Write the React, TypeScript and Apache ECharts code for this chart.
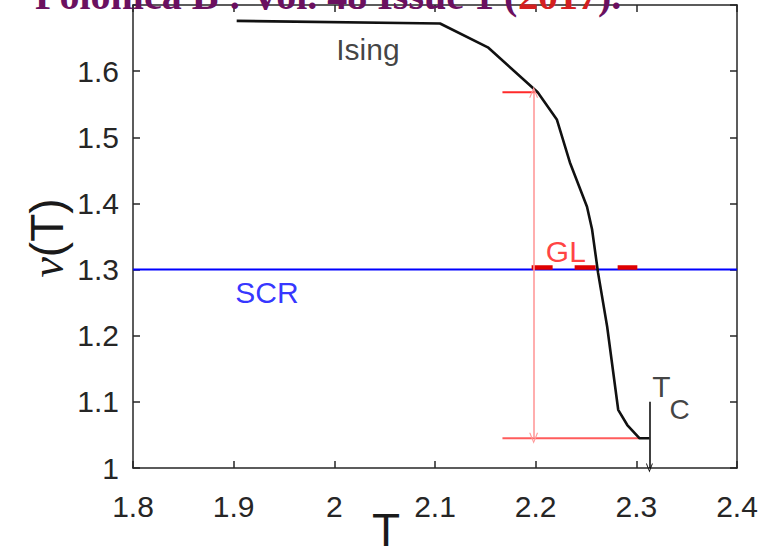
import React, { useEffect, useRef } from 'react';
import * as echarts from 'echarts';

// Ising curve nu(T)
const isingT = [1.903, 2.105, 2.1525, 2.202, 2.221, 2.234, 2.251, 2.256, 2.262, 2.271, 2.282, 2.291, 2.303, 2.313];
const isingNu = [1.676, 1.672, 1.636, 1.568, 1.527, 1.462, 1.395, 1.361, 1.295, 1.214, 1.088, 1.065, 1.045, 1.045];

// SCR level
const scrT = [1.8, 2.4];
const scrNu = [1.3, 1.3];

// GL dashed segment
const glT = [2.196, 2.301];
const glNu = [1.303, 1.303];

// red guide lines
const topGuideT = [2.167, 2.202];
const topGuideNu = 1.568;
const bottomGuideT = [2.167, 2.303];
const bottomGuideNu = 1.045;
const arrowT = 2.198;

// critical temperature marker
const Tc = 2.313;
const TcTop = 1.1;

// axis ranges
const xMin = 1.8, xMax = 2.4, xStep = 0.1;
const yMin = 1.0, yMax = 1.7, yStep = 0.1;

// in-plot labels
const labels = [
  { text: 'Ising', T: 2.0334, nu: 1.633, color: '#111111', size: 30 },
  { text: 'SCR', T: 1.933, nu: 1.265, color: '#0000ff', size: 30 },
  { text: 'GL', T: 2.23, nu: 1.327, color: '#ff1010', size: 30 },
  { text: 'T', T: 2.325, nu: 1.1227, color: '#111111', size: 30 },
  { text: 'C', T: 2.343, nu: 1.088, color: '#111111', size: 28 },
];

const chevron = 'path://M0,10 L5,0 L10,10 L8.6,10 L5,2.6 L1.4,10 Z';

export default function App() {
  const ref = useRef<HTMLDivElement>(null);
  useEffect(() => {
    if (!ref.current) return;
    const chart = echarts.init(ref.current, undefined, { renderer: 'svg' });
    const fmt = (v: number) => String(parseFloat(v.toFixed(2)));
    const axisColor = '#262626';
    const font = 'Liberation Sans';
    const baseX = {
      type: 'value' as const,
      min: xMin,
      max: xMax,
      interval: xStep,
      splitLine: { show: false },
      axisLine: { show: true, onZero: false, lineStyle: { color: axisColor, width: 1.5 } },
      axisTick: { show: true, inside: true, length: 7, lineStyle: { color: axisColor, width: 1.5 } },
    };
    const baseY = {
      type: 'value' as const,
      min: yMin,
      max: yMax,
      interval: yStep,
      splitLine: { show: false },
      axisLine: { show: true, onZero: false, lineStyle: { color: axisColor, width: 1.5 } },
      axisTick: { show: true, inside: true, length: 7, lineStyle: { color: axisColor, width: 1.5 } },
    };
    chart.setOption({
      animation: false,
      backgroundColor: '#ffffff',
      grid: { left: 133, right: 41, top: 5, bottom: 82 },
      xAxis: [
        {
          ...baseX,
          position: 'bottom',
          axisLabel: { show: true, margin: 23, color: axisColor, fontSize: 30, fontFamily: font, formatter: fmt },
        },
        { ...baseX, position: 'top', axisLabel: { show: false } },
      ],
      yAxis: [
        {
          ...baseY,
          position: 'left',
          axisLabel: {
            show: true, margin: 14, color: axisColor, fontSize: 30, fontFamily: font,
            formatter: (v: number) => (v > yMax - 0.05 ? '' : fmt(v)),
          },
        },
        { ...baseY, position: 'right', axisLabel: { show: false } },
      ],
      series: [
        {
          type: 'line', name: 'SCR', symbol: 'none',
          data: scrT.map((t, i) => [t, scrNu[i]]),
          lineStyle: { color: '#0000ff', width: 2 },
        },
        {
          type: 'line', name: 'GL', symbol: 'none',
          data: glT.map((t, i) => [t, glNu[i]]),
          lineStyle: { color: '#e00000', width: 4.5, type: [21, 22], cap: 'butt' },
        },
        {
          type: 'line', name: 'guideTop', symbol: 'none',
          data: topGuideT.map((t) => [t, topGuideNu]),
          lineStyle: { color: '#ff2a2a', width: 2 },
          markLine: {
            silent: true,
            symbol: [chevron, chevron],
            symbolSize: [9, 11],
            label: { show: false },
            lineStyle: { color: '#ff9a9a', width: 1.6, type: 'solid' },
            data: [[{ coord: [arrowT, topGuideNu] }, { coord: [arrowT, bottomGuideNu] }]],
          },
        },
        {
          type: 'line', name: 'guideBottom', symbol: 'none',
          data: bottomGuideT.map((t) => [t, bottomGuideNu]),
          lineStyle: { color: '#ff5c5c', width: 2 },
        },
        {
          type: 'line', name: 'Tc', symbol: 'none',
          data: [[Tc, TcTop], [Tc, yMin]],
          lineStyle: { color: '#111111', width: 0 },
          markLine: {
            silent: true,
            symbol: ['none', chevron],
            symbolSize: [7, 9],
            label: { show: false },
            lineStyle: { color: '#111111', width: 1.6, type: 'solid' },
            data: [[{ coord: [Tc, TcTop] }, { coord: [Tc, yMin] }]],
          },
        },
        {
          type: 'line', name: 'Ising', symbol: 'none',
          data: isingT.map((t, i) => [t, isingNu[i]]),
          lineStyle: { color: '#111111', width: 2.6, join: 'round' },
        },
        {
          type: 'scatter', name: 'labels', symbolSize: 1,
          itemStyle: { color: 'rgba(0,0,0,0)' },
          data: labels.map((l) => ({
            value: [l.T, l.nu], name: l.text,
            label: { show: true, position: 'inside', formatter: l.text, color: l.color, fontSize: l.size, fontFamily: font },
          })),
          z: 10,
        },
      ],
      graphic: [
        {
          type: 'text', x: 35, y: 15, z: 100,
          style: {
            text: '{p|Polonica B : Vol. 48 Issue 1 (}{r|2017}{p|).}',
            align: 'left', verticalAlign: 'bottom',
            rich: {
              p: { fontFamily: 'Liberation Serif', fontWeight: 'bold', fontSize: 40, fill: '#6b1060', lineHeight: 40 },
              r: { fontFamily: 'Liberation Serif', fontWeight: 'bold', fontSize: 40, fill: '#d42020', lineHeight: 40 },
            },
          },
        },
        {
          type: 'text', x: 47, y: 238, rotation: Math.PI / 2, z: 100,
          style: {
            text: '{n|ν}{t|(T)}',
            align: 'center', verticalAlign: 'middle',
            rich: {
              n: { fontFamily: 'Liberation Serif', fontStyle: 'italic', fontSize: 46, fill: '#1a1a1a' },
              t: { fontFamily: font, fontSize: 46, fill: '#1a1a1a' },
            },
          },
        },
        {
          type: 'text', x: 386, y: 530, z: 100,
          style: { text: 'T', align: 'center', verticalAlign: 'middle', fontFamily: font, fontSize: 46, fill: '#1a1a1a' },
        },
      ],
    });
    return () => chart.dispose();
  }, []);
  return <div ref={ref} style={{ position: 'fixed', left: 0, top: 0, width: 778, height: 550 }} />;
}
